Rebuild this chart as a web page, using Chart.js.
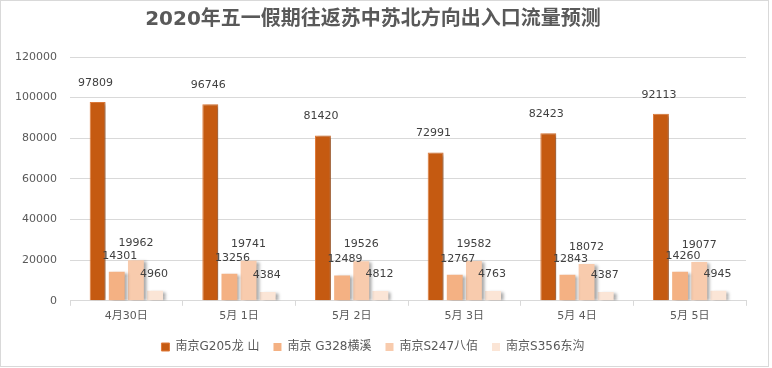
<!DOCTYPE html>
<html>
<head>
<meta charset="utf-8">
<script src="https://cdn.jsdelivr.net/npm/chart.js@4/dist/chart.umd.min.js"></script>
<style>
  body { margin: 0; background: #fff; }
  #wrap { width: 772px; height: 368px; position: relative; }
</style>
</head>
<body>
<div id="wrap"><canvas id="chart" width="772" height="368"></canvas></div>
<script>
const days = ['4月30日', '5月 1日', '5月 2日', '5月 3日', '5月 4日', '5月 5日'];
const g205 = [97809, 96746, 81420, 72991, 82423, 92113];
const g328 = [14301, 13256, 12489, 12767, 12843, 14260];
const s247 = [19962, 19741, 19526, 19582, 18072, 19077];
const s356 = [4960, 4384, 4812, 4763, 4387, 4945];

const FONT = '"DejaVu Sans", "Noto Sans CJK SC", sans-serif';

// drop shadow behind bars, like the office chart
const barShadow = {
    id: 'barShadow',
    beforeDatasetsDraw(chart) {
        const c = chart.ctx;
        c.save();
        c.shadowColor = 'rgba(0,0,0,0.35)';
        c.shadowBlur = 3;
        c.shadowOffsetX = 3;
        c.shadowOffsetY = 1;
    },
    afterDatasetsDraw(chart) {
        chart.ctx.restore();
    }
};

const valueLabels = {
    id: 'valueLabels',
    afterDatasetsDraw(chart) {
        const c = chart.ctx;
        const dx = [-2, 3, 0, -1];
        const dy = [19, 16, 17, 17];
        c.save();
        c.font = '11px ' + FONT;
        c.fillStyle = '#404040';
        c.textAlign = 'center';
        c.textBaseline = 'middle';
        chart.data.datasets.forEach((ds, i) => {
            chart.getDatasetMeta(i).data.forEach((bar, j) => {
                c.fillText(ds.data[j], bar.x + dx[i], bar.y - dy[i]);
            });
        });
        c.restore();
    }
};

const frame = {
    id: 'frame',
    beforeDraw(chart) {
        const c = chart.ctx;
        c.save();
        c.fillStyle = '#fff';
        c.fillRect(0, 0, chart.width, chart.height);
        c.strokeStyle = '#d9d9d9';
        c.lineWidth = 1;
        c.strokeRect(0.5, 0.5, 768, 366);
        c.restore();
    }
};

const ctx = document.getElementById('chart').getContext('2d');

new Chart(ctx, {
    type: 'bar',
    data: {
        labels: days,
        datasets: [
            { label: '南京G205龙 山', data: g205, backgroundColor: '#C55A11', borderColor: '#E07B3A', borderWidth: 1 },
            { label: '南京 G328横溪', data: g328, backgroundColor: '#F4B183' },
            { label: '南京S247八佰', data: s247, backgroundColor: '#F8CBAD' },
            { label: '南京S356东沟', data: s356, backgroundColor: '#FBE5D6' }
        ]
    },
    options: {
        responsive: false,
        animation: false,
        barPercentage: 0.83,
        categoryPercentage: 0.68,
        layout: { padding: { left: 0, right: 26, top: 0, bottom: 5 } },
        plugins: {
            title: {
                display: true,
                text: '2020年五一假期往返苏中苏北方向出入口流量预测',
                color: '#595959',
                font: { family: FONT, size: 20, weight: 'bold' },
                padding: { top: 8, bottom: 25 }
            },
            legend: {
                position: 'bottom',
                labels: {
                    boxWidth: 8,
                    boxHeight: 8,
                    padding: 14,
                    color: '#595959',
                    font: { family: FONT, size: 12 }
                }
            },
            tooltip: { enabled: false }
        },
        scales: {
            x: {
                grid: { offset: true, drawOnChartArea: false, drawTicks: true, tickLength: 5, color: '#d9d9d9' },
                border: { color: '#d9d9d9' },
                ticks: { color: '#595959', padding: 4, maxRotation: 0, font: { family: FONT, size: 11 } }
            },
            y: {
                min: 0,
                max: 120000,
                ticks: {
                    stepSize: 20000, color: '#595959', padding: 13,
                    font: { family: FONT, size: 11 },
                    callback: v => String(v)
                },
                grid: { color: '#d9d9d9', drawTicks: false },
                border: { display: false },
                afterFit(scale) { scale.width = 70; }
            }
        }
    },
    plugins: [frame, barShadow, valueLabels]
});
</script>
</body>
</html>
